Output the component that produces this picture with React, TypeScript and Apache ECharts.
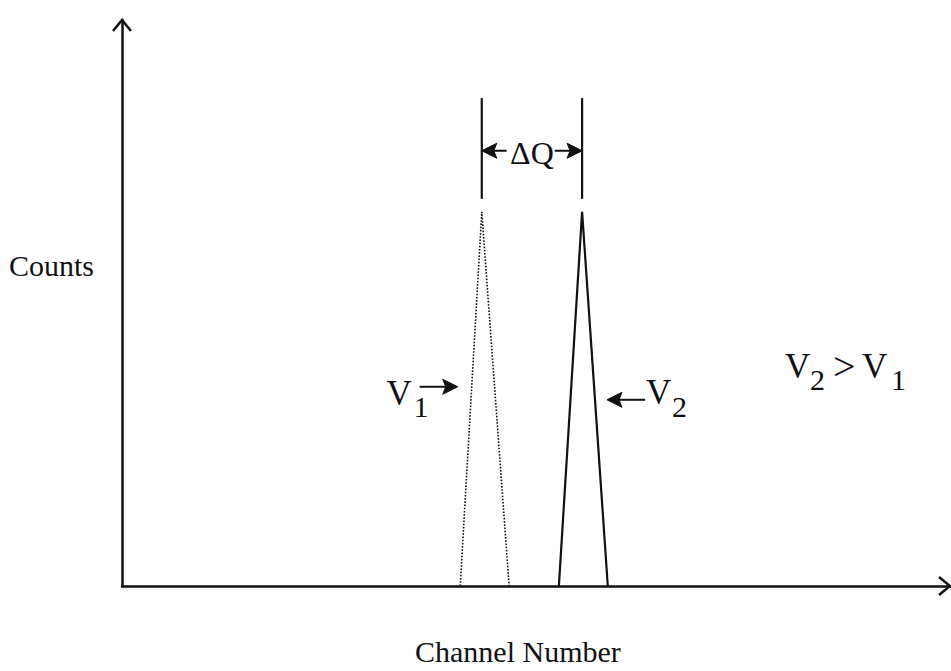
import React, { useEffect, useRef } from "react";
import * as echarts from "echarts";

// Axis extents (arbitrary units)
const X_MAX = 100;
const Y_MAX = 100;

// Triangular peaks as [channel, counts]
const peakV1: [number, number][] = [[40.8, 0], [43.4, 66.1], [46.7, 0]];
const peakV2: [number, number][] = [[52.7, 0], [55.5, 66.1], [58.6, 0]];

// Vertical markers above each peak centroid
const markerChannels = [43.4, 55.5];
const markerCounts: [number, number] = [68.4, 86.2];

// ΔQ double arrow: level and inner ends of the two halves
const dQLevel = 76.9;
const dQInner: [number, number] = [46.4, 52.2];

// Pointer arrows [tail, head]
const v1Pointer: [number, number][] = [[35.9, 35.2], [40.5, 35.2]];
const v2Pointer: [number, number][] = [[63.1, 32.9], [58.5, 32.9]];

const FONT = '"Liberation Serif", "Times New Roman", serif';
const INK = "#111";

function textEl(x: number, baseline: number, str: string, size: number, align = "left") {
  return {
    type: "text",
    x,
    y: baseline - 0.34 * size,
    silent: true,
    style: {
      text: str,
      fontFamily: FONT,
      fontSize: size,
      fill: INK,
      align,
      verticalAlign: "middle",
      textAlign: align,
      textVerticalAlign: "middle",
    },
  };
}

function arrowEls(tail: number[], tip: number[]) {
  const dx = tip[0] - tail[0];
  const dy = tip[1] - tail[1];
  const len = Math.hypot(dx, dy);
  const ux = dx / len;
  const uy = dy / len;
  const nx = -uy;
  const ny = ux;
  const L = 15;
  const W = 7.5;
  const notch = 3;
  return [
    {
      type: "line",
      silent: true,
      shape: { x1: tail[0], y1: tail[1], x2: tip[0] - ux * (L - notch), y2: tip[1] - uy * (L - notch) },
      style: { stroke: INK, lineWidth: 2 },
    },
    {
      type: "polygon",
      silent: true,
      shape: {
        points: [
          [tip[0], tip[1]],
          [tip[0] - ux * L + nx * W, tip[1] - uy * L + ny * W],
          [tip[0] - ux * (L - notch), tip[1] - uy * (L - notch)],
          [tip[0] - ux * L - nx * W, tip[1] - uy * L - ny * W],
        ],
      },
      style: { fill: INK, stroke: INK, lineWidth: 1 },
    },
  ];
}

export default function App() {
  const ref = useRef<HTMLDivElement>(null);

  useEffect(() => {
    const chart = echarts.init(ref.current!, null, { renderer: "svg" });
    chart.setOption({
      animation: false,
      backgroundColor: "#fff",
      grid: { left: 122, right: 0, top: 20, bottom: 85 },
      xAxis: {
        type: "value",
        min: 0,
        max: X_MAX,
        axisLine: { show: true, onZero: false, lineStyle: { color: INK, width: 2.5 } },
        axisTick: { show: false },
        axisLabel: { show: false },
        splitLine: { show: false },
      },
      yAxis: {
        type: "value",
        min: 0,
        max: Y_MAX,
        axisLine: { show: true, onZero: false, lineStyle: { color: INK, width: 2.5 } },
        axisTick: { show: false },
        axisLabel: { show: false },
        splitLine: { show: false },
      },
      series: [
        {
          name: "V1",
          type: "line",
          data: peakV1,
          symbol: "none",
          lineStyle: { color: INK, width: 1.6, type: [1.6, 1.6] },
          silent: true,
        },
        {
          name: "V2",
          type: "line",
          data: peakV2,
          symbol: "none",
          lineStyle: { color: INK, width: 2.2 },
          silent: true,
        },
        ...markerChannels.map((c, i) => ({
          name: "marker" + i,
          type: "line",
          data: [[c, markerCounts[0]], [c, markerCounts[1]]],
          symbol: "none",
          lineStyle: { color: INK, width: 2.2 },
          silent: true,
        })),
      ],
    });

    const px = (p: number[]) => chart.convertToPixel({ gridIndex: 0 }, p) as number[];

    const origin = px([0, 0]);
    const yTop = px([0, Y_MAX]);
    const xEnd = px([X_MAX, 0]);

    const yChevron = {
      type: "polyline",
      silent: true,
      shape: { points: [[yTop[0] - 9, yTop[1] + 11], [yTop[0], yTop[1]], [yTop[0] + 9, yTop[1] + 11]] },
      style: { stroke: INK, lineWidth: 2.5, fill: "none" },
    };
    const xTip = xEnd[0] - 1;
    const xChevron = {
      type: "polyline",
      silent: true,
      shape: { points: [[xTip - 11, origin[1] - 9], [xTip, origin[1]], [xTip - 11, origin[1] + 9]] },
      style: { stroke: INK, lineWidth: 2.5, fill: "none" },
    };

    const leftMarker = px([markerChannels[0], dQLevel]);
    const rightMarker = px([markerChannels[1], dQLevel]);
    const dQa = px([dQInner[0], dQLevel]);
    const dQb = px([dQInner[1], dQLevel]);

    const v1Tail = px(v1Pointer[0]);
    const v1Head = px(v1Pointer[1]);
    const v2Tail = px(v2Pointer[0]);
    const v2Head = px(v2Pointer[1]);

    const graphic = [
      yChevron,
      xChevron,
      ...arrowEls(dQa, leftMarker),
      ...arrowEls(dQb, rightMarker),
      textEl((leftMarker[0] + rightMarker[0]) / 2, leftMarker[1] + 13, "ΔQ", 32, "center"),
      ...arrowEls(v1Tail, v1Head),
      textEl(v1Tail[0] - 33, v1Tail[1] + 19, "V", 35),
      textEl(v1Tail[0] - 6, v1Tail[1] + 30, "1", 30),
      ...arrowEls(v2Tail, v2Head),
      textEl(v2Tail[0] + 1, v2Tail[1] + 5, "V", 35),
      textEl(v2Tail[0] + 27, v2Tail[1] + 17, "2", 30),
      textEl(785, 378, "V", 35),
      textEl(810, 390, "2", 30),
      textEl(833, 380, ">", 40),
      textEl(862, 378, "V", 35),
      textEl(891, 390, "1", 30),
      textEl(94, 276, "Counts", 30, "right"),
      textEl(415, 662, "Channel Number", 30),
    ];

    chart.setOption({ graphic });

    return () => chart.dispose();
  }, []);

  return (
    <div
      ref={ref}
      style={{ position: "fixed", left: 0, top: 0, width: 951, height: 671, background: "#fff" }}
    />
  );
}
